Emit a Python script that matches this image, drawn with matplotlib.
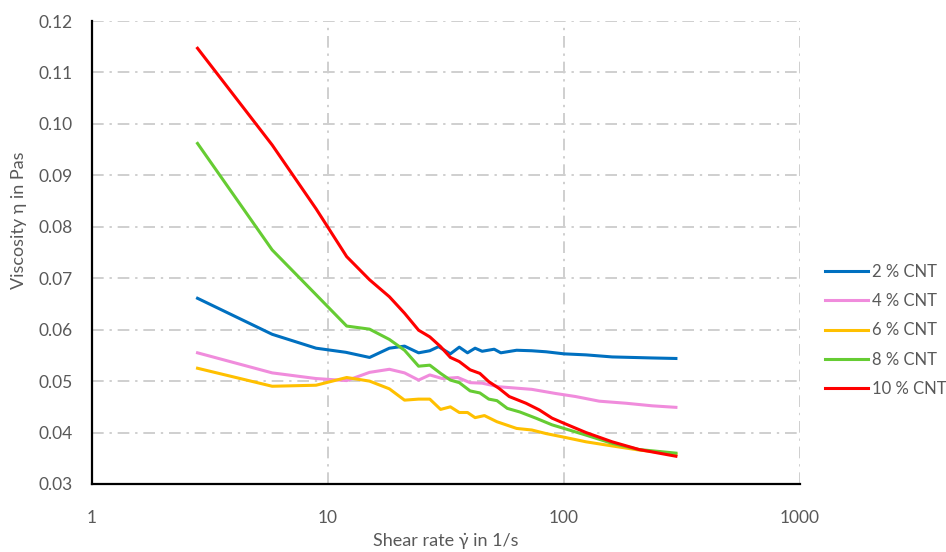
import matplotlib
matplotlib.use("Agg")
import matplotlib.pyplot as plt
from matplotlib.ticker import FixedLocator, FixedFormatter, NullLocator

plt.rcParams['font.family'] = ['Lato', 'DejaVu Sans']

x_2 = [2.8, 5.8, 8.9, 11.9, 15, 18.2, 21.1, 24.2, 27, 29.4, 33, 36, 39, 42, 45, 50.6, 54, 63, 73, 84, 100, 124, 160, 195, 236, 298]
y_2 = [0.0661, 0.0591, 0.0564, 0.0556, 0.0546, 0.0564, 0.0568, 0.0555, 0.0559, 0.0567, 0.0553, 0.0566, 0.0555, 0.0564, 0.0558, 0.0562, 0.0555, 0.0560, 0.0559, 0.0557, 0.0553, 0.0551, 0.0547, 0.0546, 0.0545, 0.0544]

x_4 = [2.8, 5.8, 8.9, 12, 15, 18.2, 21.1, 24.2, 27, 30.5, 35.5, 40, 45, 53, 73, 92, 112, 141, 183, 236, 298]
y_4 = [0.0555, 0.0516, 0.0505, 0.0501, 0.0517, 0.0523, 0.0516, 0.0502, 0.0512, 0.0505, 0.0507, 0.0497, 0.0496, 0.0489, 0.0484, 0.0476, 0.0470, 0.0461, 0.0457, 0.0452, 0.0449]

x_6 = [2.8, 5.8, 8.9, 12, 15, 18.2, 21.1, 24.2, 27, 30, 33, 36, 39, 42, 46, 52, 63, 73, 84, 100, 124, 160, 208, 298]
y_6 = [0.0525, 0.0490, 0.0492, 0.0507, 0.0500, 0.0485, 0.0463, 0.0465, 0.0465, 0.0445, 0.0450, 0.0439, 0.0439, 0.0429, 0.0433, 0.0421, 0.0408, 0.0405, 0.0398, 0.0391, 0.0382, 0.0374, 0.0366, 0.0358]

x_8 = [2.8, 5.8, 8.9, 12, 15, 18.2, 21.1, 24.2, 27, 30, 33, 36, 40, 44, 48, 52, 57.5, 65, 76, 89, 100, 124, 160, 208, 298]
y_8 = [0.0962, 0.0755, 0.0668, 0.0607, 0.0601, 0.0581, 0.0560, 0.0529, 0.0531, 0.0515, 0.0502, 0.0497, 0.0481, 0.0477, 0.0465, 0.0462, 0.0447, 0.0440, 0.0428, 0.0415, 0.0408, 0.0395, 0.0379, 0.0367, 0.0360]

x_10 = [2.8, 5.8, 8.9, 12, 15, 18.2, 21.1, 24.2, 27, 30, 33, 36, 40, 44, 48, 53, 58.6, 69, 78.6, 89, 100, 124, 160, 208, 298]
y_10 = [0.1147, 0.0959, 0.0835, 0.0742, 0.0697, 0.0664, 0.0632, 0.0599, 0.0586, 0.0567, 0.0546, 0.0538, 0.0522, 0.0515, 0.0499, 0.0486, 0.0470, 0.0457, 0.0444, 0.0428, 0.0418, 0.0400, 0.0382, 0.0367, 0.0354]

labels = ['2 % CNT', '4 % CNT', '6 % CNT', '8 % CNT', '10 % CNT']
colors = ['#0070C0', '#F08CDC', '#FFC000', '#66CC33', '#FF0000']

x_ticks = [1, 10, 100, 1000]
x_ticklabels = ['1', '10', '100', '1000']
y_ticks = [0.03, 0.04, 0.05, 0.06, 0.07, 0.08, 0.09, 0.10, 0.11, 0.12]
y_ticklabels = ['0.03', '0.04', '0.05', '0.06', '0.07', '0.08', '0.09', '0.10', '0.11', '0.12']

fig = plt.figure(figsize=(9.46, 5.52), dpi=100)
ax = fig.add_axes([92/946, 1-484/552, (800-92)/946, (484-21)/552])

series = [(x_2, y_2), (x_4, y_4), (x_6, y_6), (x_8, y_8), (x_10, y_10)]
for (xs, ys), lab, c in zip(series, labels, colors):
    ax.plot(xs, ys, color=c, lw=2.2, label=lab, solid_joinstyle='round', zorder=3)

ax.set_xscale('log')
ax.set_xlim(1, 1000)
ax.set_ylim(0.03, 0.12)
ax.xaxis.set_major_locator(FixedLocator(x_ticks))
ax.xaxis.set_major_formatter(FixedFormatter(x_ticklabels))
ax.xaxis.set_minor_locator(NullLocator())
ax.yaxis.set_major_locator(FixedLocator(y_ticks))
ax.yaxis.set_major_formatter(FixedFormatter(y_ticklabels))

ax.grid(True, which='major', color='#CFCFCF', lw=1.4, linestyle=(0, (6, 3, 1.2, 3)), zorder=0)
ax.set_axisbelow(True)
for s in ['top', 'right']:
    ax.spines[s].set_visible(False)
for s in ['left', 'bottom']:
    ax.spines[s].set_color('black')
    ax.spines[s].set_linewidth(1.6)
    ax.spines[s].set_zorder(4)

ax.tick_params(axis='both', length=0, labelsize=12.5, labelcolor='#595959')
ax.tick_params(axis='x', pad=19)
ax.tick_params(axis='y', pad=14)

ax.set_xlabel('Shear rate \u03b3\u0307 in 1/s', fontsize=13, color='#595959', labelpad=5)
ax.set_ylabel('Viscosity \u03b7 in Pas', fontsize=13, color='#595959', labelpad=8)
ax.yaxis.set_label_coords(-0.092, 0.57)

fig.legend(loc='upper left', bbox_to_anchor=(818/946, 1-257/552), frameon=False,
           fontsize=12, labelcolor='#595959', handlelength=2.6, handletextpad=0.25,
           labelspacing=0.8, borderaxespad=0)

fig.savefig('out.png', dpi=100)
